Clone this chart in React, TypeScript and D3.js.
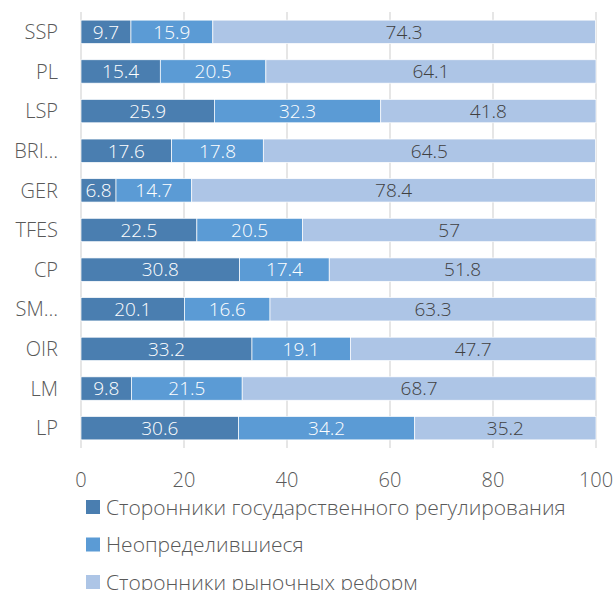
import React, { useEffect, useRef } from "react";
import * as d3 from "d3";

const categories = ["SSP", "PL", "LSP", "BRI…", "GER", "TFES", "CP", "SM…", "OIR", "LM", "LP"];
const regulation = [9.7, 15.4, 25.9, 17.6, 6.8, 22.5, 30.8, 20.1, 33.2, 9.8, 30.6];
const undecided = [15.9, 20.5, 32.3, 17.8, 14.7, 20.5, 17.4, 16.6, 19.1, 21.5, 34.2];
const market = [74.3, 64.1, 41.8, 64.5, 78.4, 57, 51.8, 63.3, 47.7, 68.7, 35.2];
const seriesNames = [
  "Сторонники государственного регулирования",
  "Неопределившиеся",
  "Сторонники рыночных реформ",
];
const xTicks = [0, 20, 40, 60, 80, 100];

const colors = ["#4a7eb0", "#5b9bd5", "#adc5e6"];
const labelColors = ["#ffffff", "#ffffff", "#404040"];
const FONT = "'Open Sans', 'Noto Sans', sans-serif";

export default function App() {
  const svgRef = useRef<SVGSVGElement | null>(null);

  useEffect(() => {
    if (!svgRef.current) return;
    const width = 616, height = 590;
    const left = 81, right = 596, top = 12, bottom = 448;

    const svg = d3.select(svgRef.current);
    svg.selectAll("*").remove();

    const x = d3.scaleLinear().domain([0, 100]).range([left, right]);
    const y = d3.scaleBand().domain(categories).range([top, bottom]).paddingInner(0.41).paddingOuter(0.205);

    // gridlines
    svg.append("g")
      .selectAll("line")
      .data(xTicks)
      .enter()
      .append("line")
      .attr("x1", d => x(d))
      .attr("x2", d => x(d))
      .attr("y1", top)
      .attr("y2", bottom)
      .attr("stroke", "#d9d9d9")
      .attr("stroke-width", 1.3);

    const rows = categories.map((c, i) => ({ cat: c, r: regulation[i], u: undecided[i], m: market[i] }));
    const stack = d3.stack<{ cat: string; r: number; u: number; m: number }>().keys(["r", "u", "m"]);
    const layers = stack(rows);

    layers.forEach((layer, li) => {
      const g = svg.append("g");
      g.selectAll("rect")
        .data(layer)
        .enter()
        .append("rect")
        .attr("x", d => x(d[0]))
        .attr("y", d => y(d.data.cat) as number)
        .attr("width", d => x(d[1]) - x(d[0]))
        .attr("height", y.bandwidth())
        .attr("fill", colors[li])
        .attr("stroke", "#ffffff")
        .attr("stroke-width", 0.7);

      g.selectAll("text")
        .data(layer)
        .enter()
        .append("text")
        .attr("x", d => (x(d[0]) + x(d[1])) / 2)
        .attr("y", d => (y(d.data.cat) as number) + y.bandwidth() / 2)
        .attr("dy", "0.36em")
        .attr("text-anchor", "middle")
        .attr("font-family", FONT)
        .attr("font-weight", 300)
        .attr("font-size", 19)
        .attr("fill", labelColors[li])
        .text(d => String(+(d[1] - d[0]).toFixed(1)));
    });

    // category labels
    svg.append("g")
      .selectAll("text")
      .data(categories)
      .enter()
      .append("text")
      .attr("x", 58)
      .attr("y", d => (y(d) as number) + y.bandwidth() / 2)
      .attr("dy", "0.36em")
      .attr("text-anchor", "end")
      .attr("font-family", FONT)
      .attr("font-weight", 300)
      .attr("font-size", 20)
      .attr("fill", "#595959")
      .text(d => d);

    // x tick labels
    svg.append("g")
      .selectAll("text")
      .data(xTicks)
      .enter()
      .append("text")
      .attr("x", d => x(d))
      .attr("y", 480)
      .attr("dy", "0.36em")
      .attr("text-anchor", "middle")
      .attr("font-family", FONT)
      .attr("font-weight", 300)
      .attr("font-size", 20)
      .attr("fill", "#595959")
      .text(d => d);

    // legend
    const legend = svg.append("g")
      .selectAll("g")
      .data(seriesNames)
      .enter()
      .append("g")
      .attr("transform", (d, i) => `translate(86,${507 + i * 37.5})`);

    legend.append("rect")
      .attr("x", 0)
      .attr("y", -7)
      .attr("width", 14)
      .attr("height", 14)
      .attr("fill", (d, i) => colors[i]);

    legend.append("text")
      .attr("x", 20)
      .attr("y", 0)
      .attr("dy", "0.36em")
      .attr("font-family", FONT)
      .attr("font-weight", 300)
      .attr("font-size", 21)
      .attr("fill", "#595959")
      .text(d => d);

    svg.attr("width", width).attr("height", height);
  }, []);

  return (
    <svg
      ref={svgRef}
      width={616}
      height={590}
      style={{ position: "absolute", left: 0, top: 0, background: "#fff" }}
    ></svg>
  );
}
